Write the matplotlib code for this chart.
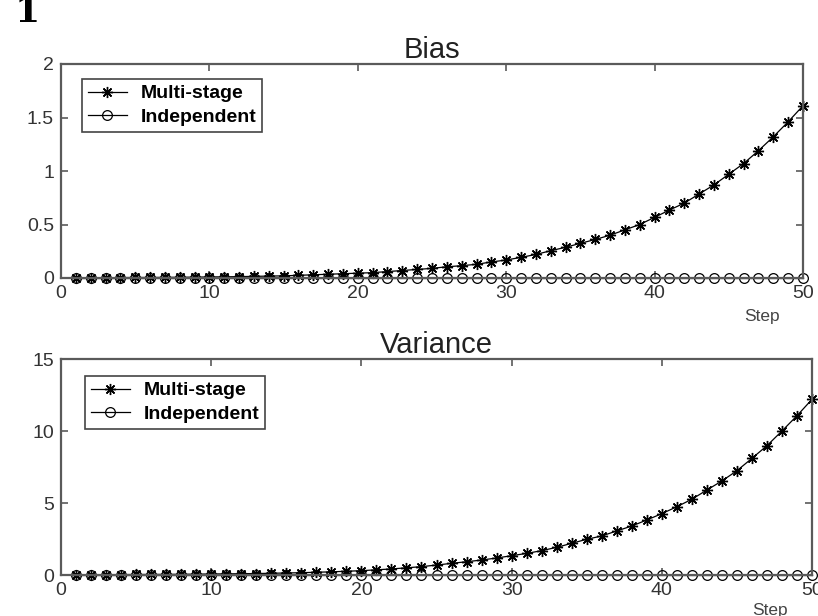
import matplotlib
matplotlib.use("Agg")
import matplotlib.pyplot as plt

plt.rcParams["font.family"] = ["Liberation Sans", "DejaVu Sans"]

steps = list(range(1, 51))

bias_multi = [0.002, 0.003, 0.003, 0.004, 0.005, 0.005, 0.006, 0.007, 0.008, 0.010,
              0.011, 0.013, 0.015, 0.018, 0.020, 0.025, 0.030, 0.035, 0.040, 0.045,
              0.050, 0.060, 0.070, 0.080, 0.090, 0.105, 0.115, 0.128, 0.150, 0.168,
              0.193, 0.220, 0.255, 0.287, 0.324, 0.360, 0.400, 0.450, 0.500, 0.567,
              0.635, 0.700, 0.785, 0.870, 0.970, 1.070, 1.190, 1.320, 1.460, 1.610]
bias_indep = [0.004, 0.004, 0.004, 0.004, 0.004, 0.004, 0.004, 0.004, 0.004, 0.004,
              0.004, 0.004, 0.004, 0.004, 0.004, 0.004, 0.004, 0.004, 0.004, 0.004,
              0.004, 0.004, 0.004, 0.004, 0.004, 0.004, 0.004, 0.004, 0.004, 0.004,
              0.004, 0.004, 0.004, 0.004, 0.004, 0.004, 0.004, 0.004, 0.004, 0.004,
              0.004, 0.004, 0.004, 0.004, 0.004, 0.004, 0.004, 0.004, 0.004, 0.004]

var_multi = [0.015, 0.020, 0.025, 0.030, 0.035, 0.040, 0.045, 0.050, 0.060, 0.070,
             0.080, 0.090, 0.100, 0.120, 0.140, 0.160, 0.190, 0.220, 0.260, 0.300,
             0.360, 0.420, 0.500, 0.580, 0.690, 0.810, 0.920, 1.040, 1.180, 1.340,
             1.500, 1.690, 1.920, 2.200, 2.480, 2.710, 3.060, 3.400, 3.820, 4.260,
             4.740, 5.260, 5.900, 6.530, 7.240, 8.100, 8.980, 10.00, 11.06, 12.20]
var_indep = [0.03, 0.03, 0.03, 0.03, 0.03, 0.03, 0.03, 0.03, 0.03, 0.03,
             0.03, 0.03, 0.03, 0.03, 0.03, 0.03, 0.03, 0.03, 0.03, 0.03,
             0.03, 0.03, 0.03, 0.03, 0.03, 0.03, 0.03, 0.03, 0.03, 0.03,
             0.03, 0.03, 0.03, 0.03, 0.03, 0.03, 0.03, 0.03, 0.03, 0.03,
             0.03, 0.03, 0.03, 0.03, 0.03, 0.03, 0.03, 0.03, 0.03, 0.03]

panels = [
    ("Bias", bias_multi, bias_indep, [0, 0.5, 1, 1.5, 2], ["0", "0.5", "1", "1.5", "2"], 2),
    ("Variance", var_multi, var_indep, [0, 5, 10, 15], ["0", "5", "10", "15"], 15),
]
xticks = [0, 10, 20, 30, 40, 50]

W, H = 818, 616
fig = plt.figure(figsize=(W / 100, H / 100), dpi=100, facecolor="white")

# axes boxes in pixels: left, right, top, bottom
boxes = [(61, 803, 64, 278), (61, 812, 359, 575)]
legend_pos = [(82, 79), (85, 376)]
step_pos = [(762, 317), (770, 610)]

frame_col = "#5a5a5a"
text_col = "#333333"
asterisk = (8, 2, 0)

for (title, multi, indep, yt, ytl, ymax), (l, r, t, b), (lx, ly), (sx, sy) in zip(
        panels, boxes, legend_pos, step_pos):
    ax = fig.add_axes([l / W, 1 - b / H, (r - l) / W, (b - t) / H])
    ax.plot(steps, multi, color="black", lw=0.9, marker=asterisk,
            markersize=8, markeredgewidth=1.0, label="Multi-stage", clip_on=False)
    ax.plot(steps, indep, color="black", lw=0.9, marker="o", markersize=7,
            markerfacecolor="none", markeredgewidth=0.9, label="Independent", clip_on=False)
    ax.set_xlim(0, 50)
    ax.set_ylim(0, ymax)
    ax.set_xticks(xticks)
    ax.set_xticklabels([str(v) for v in xticks])
    ax.set_yticks(yt)
    ax.set_yticklabels(ytl)
    ax.tick_params(direction="in", top=True, right=True, length=5, width=1.2,
                   colors=frame_col, labelcolor=text_col, labelsize=14, pad=5)
    for s in ax.spines.values():
        s.set_color(frame_col)
        s.set_linewidth(1.6)
    ax.set_title(title, fontsize=21, color="#222222", pad=4)
    leg = ax.legend(loc="upper left",
                    bbox_to_anchor=((lx - l) / (r - l), 1 - (ly - t) / (b - t)),
                    borderaxespad=0, fancybox=False, edgecolor="#444444",
                    framealpha=1, prop={"weight": "bold", "size": 14},
                    handlelength=2.0, handletextpad=0.7, borderpad=0.3,
                    labelspacing=0.3)
    leg.get_frame().set_linewidth(1.2)
    fig.text(sx / W, 1 - sy / H, "Step", ha="center", va="center",
             fontsize=12.5, color="#444444")

fig.text(27 / W, 1 - 22 / H, "1", ha="center", va="baseline", fontsize=26,
         fontweight="bold", family="DejaVu Serif", color="black")

fig.savefig("out.png", dpi=100, facecolor="white")
